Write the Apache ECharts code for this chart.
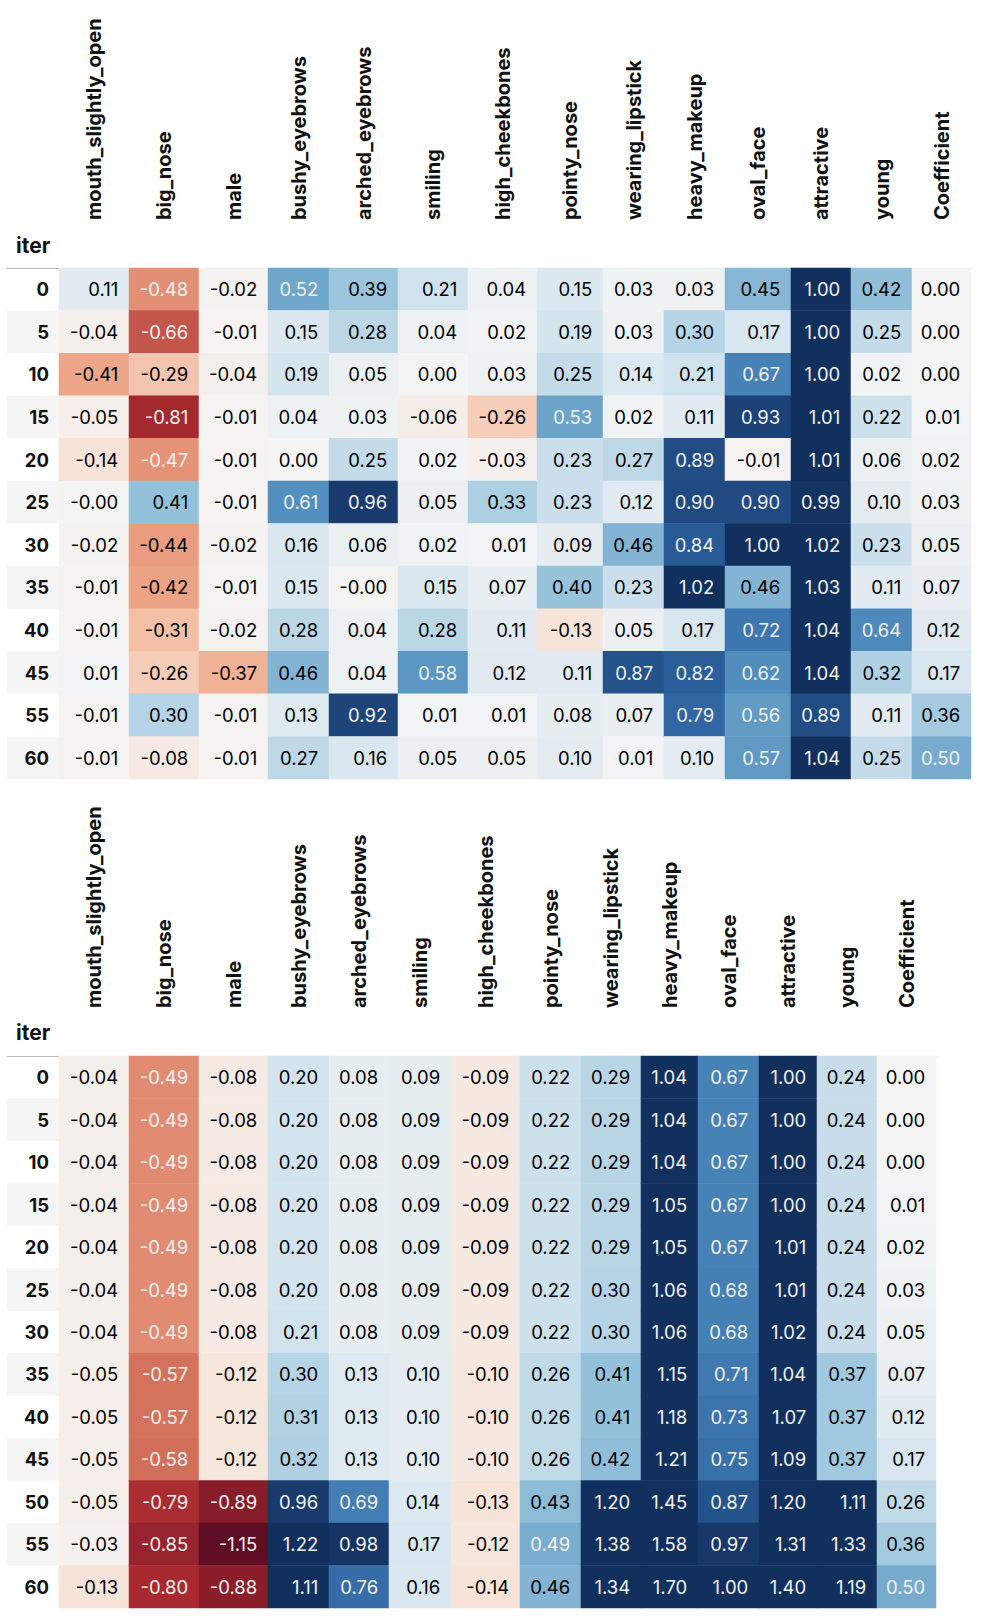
<!DOCTYPE html>
<html>
<head>
<meta charset="utf-8">
<script src="https://cdn.jsdelivr.net/npm/echarts@6/dist/echarts.min.js"></script>
<style>
  html, body { margin: 0; padding: 0; background: #fff; }
  #main { width: 990px; height: 1618px; }
</style>
</head>
<body>
<div id="main"></div>
<script>
// column names (same for both tables)
var columns = ['mouth_slightly_open', 'big_nose', 'male', 'bushy_eyebrows', 'arched_eyebrows', 'smiling',
    'high_cheekbones', 'pointy_nose', 'wearing_lipstick', 'heavy_makeup', 'oval_face', 'attractive', 'young', 'Coefficient'];

// upper table
var topIters = ['0', '5', '10', '15', '20', '25', '30', '35', '40', '45', '55', '60'];
var topValues = [
    [0.11, -0.48, -0.02, 0.52, 0.39, 0.21, 0.04, 0.15, 0.03, 0.03, 0.45, 1.00, 0.42, 0.00],
    [-0.04, -0.66, -0.01, 0.15, 0.28, 0.04, 0.02, 0.19, 0.03, 0.30, 0.17, 1.00, 0.25, 0.00],
    [-0.41, -0.29, -0.04, 0.19, 0.05, 0.00, 0.03, 0.25, 0.14, 0.21, 0.67, 1.00, 0.02, 0.00],
    [-0.05, -0.81, -0.01, 0.04, 0.03, -0.06, -0.26, 0.53, 0.02, 0.11, 0.93, 1.01, 0.22, 0.01],
    [-0.14, -0.47, -0.01, 0.00, 0.25, 0.02, -0.03, 0.23, 0.27, 0.89, -0.01, 1.01, 0.06, 0.02],
    [-0.004, 0.41, -0.01, 0.61, 0.96, 0.05, 0.33, 0.23, 0.12, 0.90, 0.90, 0.99, 0.10, 0.03],
    [-0.02, -0.44, -0.02, 0.16, 0.06, 0.02, 0.01, 0.09, 0.46, 0.84, 1.00, 1.02, 0.23, 0.05],
    [-0.01, -0.42, -0.01, 0.15, -0.004, 0.15, 0.07, 0.40, 0.23, 1.02, 0.46, 1.03, 0.11, 0.07],
    [-0.01, -0.31, -0.02, 0.28, 0.04, 0.28, 0.11, -0.13, 0.05, 0.17, 0.72, 1.04, 0.64, 0.12],
    [0.01, -0.26, -0.37, 0.46, 0.04, 0.58, 0.12, 0.11, 0.87, 0.82, 0.62, 1.04, 0.32, 0.17],
    [-0.01, 0.30, -0.01, 0.13, 0.92, 0.01, 0.01, 0.08, 0.07, 0.79, 0.56, 0.89, 0.11, 0.36],
    [-0.01, -0.08, -0.01, 0.27, 0.16, 0.05, 0.05, 0.10, 0.01, 0.10, 0.57, 1.04, 0.25, 0.50]
];

// lower table
var bottomIters = ['0', '5', '10', '15', '20', '25', '30', '35', '40', '45', '50', '55', '60'];
var bottomValues = [
    [-0.04, -0.49, -0.08, 0.20, 0.08, 0.09, -0.09, 0.22, 0.29, 1.04, 0.67, 1.00, 0.24, 0.00],
    [-0.04, -0.49, -0.08, 0.20, 0.08, 0.09, -0.09, 0.22, 0.29, 1.04, 0.67, 1.00, 0.24, 0.00],
    [-0.04, -0.49, -0.08, 0.20, 0.08, 0.09, -0.09, 0.22, 0.29, 1.04, 0.67, 1.00, 0.24, 0.00],
    [-0.04, -0.49, -0.08, 0.20, 0.08, 0.09, -0.09, 0.22, 0.29, 1.05, 0.67, 1.00, 0.24, 0.01],
    [-0.04, -0.49, -0.08, 0.20, 0.08, 0.09, -0.09, 0.22, 0.29, 1.05, 0.67, 1.01, 0.24, 0.02],
    [-0.04, -0.49, -0.08, 0.20, 0.08, 0.09, -0.09, 0.22, 0.30, 1.06, 0.68, 1.01, 0.24, 0.03],
    [-0.04, -0.49, -0.08, 0.21, 0.08, 0.09, -0.09, 0.22, 0.30, 1.06, 0.68, 1.02, 0.24, 0.05],
    [-0.05, -0.57, -0.12, 0.30, 0.13, 0.10, -0.10, 0.26, 0.41, 1.15, 0.71, 1.04, 0.37, 0.07],
    [-0.05, -0.57, -0.12, 0.31, 0.13, 0.10, -0.10, 0.26, 0.41, 1.18, 0.73, 1.07, 0.37, 0.12],
    [-0.05, -0.58, -0.12, 0.32, 0.13, 0.10, -0.10, 0.26, 0.42, 1.21, 0.75, 1.09, 0.37, 0.17],
    [-0.05, -0.79, -0.89, 0.96, 0.69, 0.14, -0.13, 0.43, 1.20, 1.45, 0.87, 1.20, 1.11, 0.26],
    [-0.03, -0.85, -1.15, 1.22, 0.98, 0.17, -0.12, 0.49, 1.38, 1.58, 0.97, 1.31, 1.33, 0.36],
    [-0.13, -0.80, -0.88, 1.11, 0.76, 0.16, -0.14, 0.46, 1.34, 1.70, 1.00, 1.40, 1.19, 0.50]
];

// layout: column edges in px (table columns are not equal width)
var topEdges = [59, 129, 199, 268, 329, 398, 468, 537, 603, 664, 725, 791, 851, 912, 971];
var bottomEdges = [59, 129, 199, 268, 329, 389, 451, 520, 581, 641, 698, 759, 817, 877, 936];

var FONT = 'Inter, "Noto Sans", sans-serif';
// RdBu, slightly muted like the screenshot
var RdBu = ['#5f0d22', '#a82a30', '#cf6955', '#efa98a', '#f8dccb', '#f4f4f4',
    '#d3e4ee', '#97c3db', '#5592c0', '#2e64a3', '#12305e'];

var grid = [], xAxis = [], yAxis = [], series = [];

function addTable(iters, values, edges, top, height) {
    // index column
    var gi = grid.length;
    grid.push({ left: 7, top: top, width: edges[0] - 7, height: height });
    xAxis.push({
        type: 'category', gridIndex: gi, position: 'top', data: [''],
        axisLine: { show: true, lineStyle: { color: '#bdbdbd', width: 1 } },
        axisTick: { show: false }, axisLabel: { show: false }
    });
    yAxis.push({
        type: 'category', gridIndex: gi, data: iters, inverse: true, position: 'right',
        axisLine: { show: false }, axisTick: { show: false },
        axisLabel: { inside: true, margin: 10, fontFamily: FONT, fontSize: 18.5, fontWeight: 'bold', color: '#111' },
        splitArea: { show: true, areaStyle: { color: ['rgba(255,255,255,0)', '#f5f5f5'] } }
    });

    for (var c = 0; c < columns.length; c++) {
        var g = grid.length;
        grid.push({ left: edges[c], top: top, width: edges[c + 1] - edges[c], height: height });
        xAxis.push({
            type: 'category', gridIndex: g, position: 'top', data: [columns[c]],
            axisLine: { show: true, lineStyle: { color: '#bdbdbd', width: 1 } },
            axisTick: { show: false },
            axisLabel: { rotate: -90, margin: 48, fontFamily: FONT, fontSize: 20, fontWeight: 'bold', color: '#111' }
        });
        yAxis.push({ type: 'category', gridIndex: g, data: iters, inverse: true, show: false });

        var data = [];
        for (var r = 0; r < iters.length; r++) {
            var v = values[r][c];
            data.push({
                value: [0, r, Math.max(-1, Math.min(1, v)), v],
                label: { color: Math.abs(v) >= 0.47 ? '#f1f1f1' : '#000' }
            });
        }
        series.push({
            type: 'heatmap', xAxisIndex: g, yAxisIndex: g, data: data,
            label: {
                show: true, position: 'insideRight', distance: 11,
                fontFamily: FONT, fontSize: 18.5,
                formatter: function (p) { return p.value[3].toFixed(2); }
            },
            emphasis: { disabled: true }
        });
    }
}

addTable(topIters, topValues, topEdges, 268, 511);
addTable(bottomIters, bottomValues, bottomEdges, 1056, 552);

var seriesIdx = series.map(function (s, i) { return i; });

var myChart = echarts.init(document.getElementById('main'), null, { renderer: 'svg' });

option = {
    animation: false,
    backgroundColor: '#fff',
    title: [
        { text: 'iter', left: 16, top: 235, padding: 0, textStyle: { fontFamily: FONT, fontSize: 21, fontWeight: 'bold', color: '#111' } },
        { text: 'iter', left: 16, top: 1022, padding: 0, textStyle: { fontFamily: FONT, fontSize: 21, fontWeight: 'bold', color: '#111' } }
    ],
    grid: grid,
    xAxis: xAxis,
    yAxis: yAxis,
    visualMap: {
        show: false, type: 'continuous', dimension: 2, min: -1, max: 1,
        seriesIndex: seriesIdx,
        inRange: { color: RdBu }
    },
    series: series
};

myChart.setOption(option);
</script>
</body>
</html>
